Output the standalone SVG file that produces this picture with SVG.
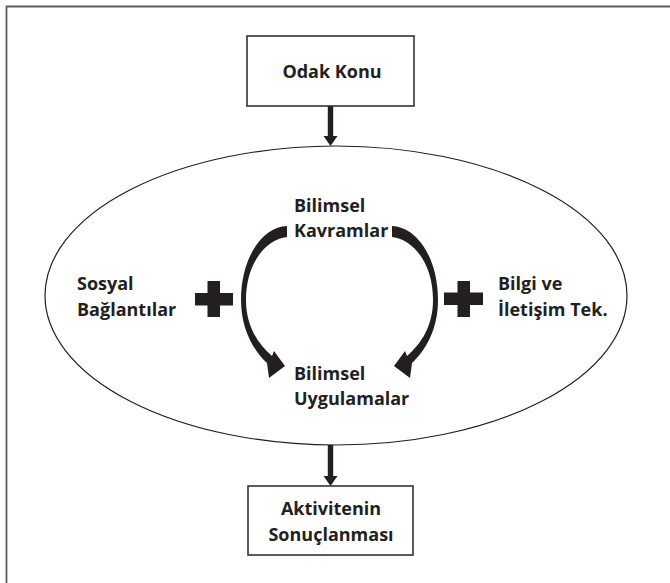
<svg xmlns="http://www.w3.org/2000/svg" width="670" height="583" viewBox="0 0 670 583">
<defs>
<style>
.t{font-family:"Open Sans","Noto Sans","Liberation Sans",sans-serif;font-weight:700;font-size:18px;fill:#231f20}
.box{fill:#fff;stroke:#333;stroke-width:1.6}
.blk{fill:#231f20}
</style>
<path id="curve" d="M287,226 C262,227 241,258 241,300 C241,330 254,351 267,363 L269,378 L285,366 L274,351 L272,356 C258,344 246,326 246,300 C246,265 264,240 287,237 Z"/>
</defs>
<rect width="670" height="583" fill="#fff"/>
<path d="M6.5,583 V6.5 H670" fill="none" stroke="#5a5a5a" stroke-width="1.8"/>
<g id="ellipse-node">
<ellipse cx="336" cy="295.5" rx="291" ry="149.5" fill="none" stroke="#231f20" stroke-width="1.2"/>
</g>
<g id="connectors">
<rect x="327.8" y="106" width="5.4" height="31" class="blk"/>
<polygon points="323.5,136 337.5,136 330.5,146" class="blk"/>
<rect x="327.8" y="445" width="5.4" height="32" class="blk"/>
<polygon points="323.5,476 337.5,476 330.5,486" class="blk"/>
<use href="#curve" class="blk"/>
<use href="#curve" class="blk" transform="translate(679,0) scale(-1,1)"/>
</g>
<g id="odak-konu">
<rect x="247" y="36" width="167" height="70" class="box"/>
<text x="332" y="78" text-anchor="middle" class="t">Odak Konu</text>
</g>
<g id="aktivitenin">
<rect x="248" y="486" width="165" height="69" class="box"/>
<text x="331" y="515" text-anchor="middle" class="t">Aktivitenin</text>
<text x="331" y="541" text-anchor="middle" class="t">Sonuçlanması</text>
</g>
<g id="bilimsel-kavramlar">
<text x="294" y="212" class="t">Bilimsel</text>
<text x="294" y="237" class="t">Kavramlar</text>
</g>
<g id="bilimsel-uygulamalar">
<text x="294" y="380" class="t">Bilimsel</text>
<text x="294" y="405" class="t">Uygulamalar</text>
</g>
<g id="sosyal">
<text x="77" y="290" class="t">Sosyal</text>
<text x="77" y="316" class="t">Bağlantılar</text>
</g>
<g id="bilgi">
<text x="498" y="290" class="t">Bilgi ve</text>
<text x="498" y="316" class="t">İletişim Tek.</text>
</g>
<g id="plus-left">
<rect x="195" y="293" width="38" height="12.5" class="blk"/>
<rect x="207.5" y="281" width="12.5" height="36" class="blk"/>
</g>
<g id="plus-right">
<rect x="444" y="292.5" width="39" height="12.5" class="blk"/>
<rect x="457.5" y="281" width="12.5" height="36" class="blk"/>
</g>
</svg>
